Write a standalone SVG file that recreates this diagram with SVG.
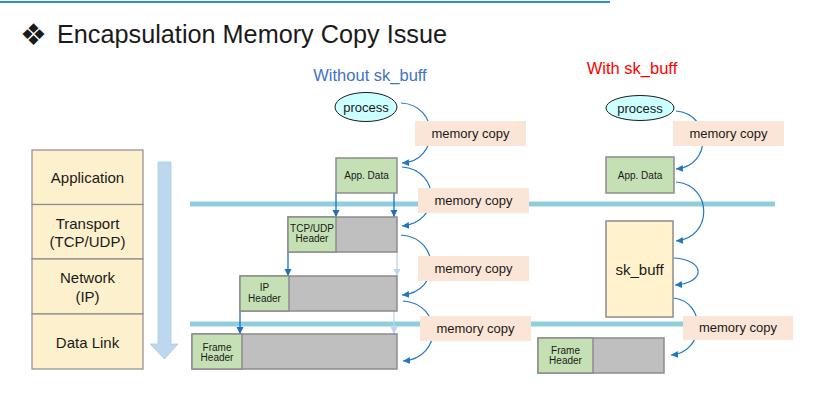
<svg xmlns="http://www.w3.org/2000/svg" width="813" height="412" viewBox="0 0 813 412">
<style>
  text { font-family: "Liberation Sans", Arial, sans-serif; fill: #1a1a1a; }
  .layer { fill: #fdf0cc; stroke: #8c8c8c; stroke-width: 1.2; }
  .green { fill: #c5e0b4; stroke: #8c8c8c; stroke-width: 1.5; }
  .gray { fill: #bfbfbf; stroke: #8c8c8c; stroke-width: 1.5; }
  .mc { fill: #fbe5d6; }
  .mct { font-size: 13px; text-anchor: middle; }
  .st { font-size: 15px; text-anchor: middle; }
  .sm { font-size: 10px; text-anchor: middle; }
  .proc { fill: #ccffff; stroke: #1a1a1a; stroke-width: 1; }
  .curve { fill: none; stroke: #1f77c4; stroke-width: 1.2; marker-end: url(#ah); }
  .vdark { fill: none; stroke: #1f6fc0; stroke-width: 1.3; marker-end: url(#ahv); }
  .vlight { fill: none; stroke: #b9d6f2; stroke-width: 1.3; marker-end: url(#ahl); }
  .sep { stroke: #92cddc; stroke-width: 5; }
</style>
<defs>
  <marker id="ah" markerUnits="userSpaceOnUse" markerWidth="8" markerHeight="8" refX="7" refY="4" orient="auto">
    <path d="M0,0.5 L7,4 L0,7.5 Z" fill="#1f77c4"/>
  </marker>
  <marker id="ahv" markerUnits="userSpaceOnUse" markerWidth="8" markerHeight="8" refX="7" refY="4" orient="auto">
    <path d="M0,0.5 L7,4 L0,7.5 Z" fill="#1f6fc0"/>
  </marker>
  <marker id="ahl" markerUnits="userSpaceOnUse" markerWidth="8" markerHeight="8" refX="7" refY="4" orient="auto">
    <path d="M0,0.5 L7,4 L0,7.5 Z" fill="#b9d6f2"/>
  </marker>
</defs>
<rect width="813" height="412" fill="#ffffff"/>
<line x1="0" y1="2" x2="610" y2="2" stroke="#2a8fd4" stroke-width="2"/>
<g id="title">
  <text x="20" y="45" font-size="30" style="font-family:'DejaVu Sans',sans-serif">❖</text>
  <text x="57" y="43" font-size="26.5" textLength="390" lengthAdjust="spacingAndGlyphs">Encapsulation Memory Copy Issue</text>
</g>
<g id="labels">
  <text x="370" y="81" font-size="16.5" text-anchor="middle" style="fill:#4472c4">Without sk_buff</text>
  <text x="632" y="74" font-size="16.5" text-anchor="middle" style="fill:#ff0000">With sk_buff</text>
</g>
<g id="stack">
  <rect class="layer" x="32" y="150" width="111" height="54.5"/>
  <rect class="layer" x="32" y="204.5" width="111" height="54.5"/>
  <rect class="layer" x="32" y="259" width="111" height="55"/>
  <rect class="layer" x="32" y="314" width="111" height="55"/>
  <text class="st" x="87.5" y="183">Application</text>
  <text class="st" x="87.5" y="229">Transport</text>
  <text class="st" x="87.5" y="247">(TCP/UDP)</text>
  <text class="st" x="87.5" y="283">Network</text>
  <text class="st" x="87.5" y="302">(IP)</text>
  <text class="st" x="87.5" y="348">Data Link</text>
</g>
<g id="down-arrow">
  <path d="M158,162 L171,162 L171,344 L178,344 L164.5,359 L150,344 L158,344 Z" fill="#bdd7ee" stroke="#aecbe8" stroke-width="0.8"/>
</g>
<g id="separators">
  <line class="sep" x1="190" y1="204" x2="775" y2="204"/>
  <line class="sep" x1="190" y1="324" x2="775" y2="324"/>
</g>
<g id="connectors">
  <path class="curve" d="M401,103 C440,105 440,161 402,163"/>
  <path class="curve" d="M402,167 C441,170 441,223 402,226"/>
  <path class="curve" d="M401,235 C441,238 441,292 402,295"/>
  <path class="curve" d="M403,301 C443,304 443,358 403,361"/>
  <path class="curve" d="M676,111 C712,114 712,166 676,169"/>
  <path class="curve" d="M676,182 C713,185 713,238 676,241"/>
  <path class="curve" d="M674,258 C706,260 706,283 675,285"/>
  <path class="curve" d="M674,298 C706,302 706,352 671,355"/>
  <path class="vdark" d="M336,193 L336,217"/>
  <path class="vdark" d="M394,193 L394,217"/>
  <path class="vdark" d="M288,252 L288,276"/>
  <path class="vlight" d="M397,252 L397,276"/>
  <path class="vdark" d="M240,311 L240,334"/>
  <path class="vlight" d="M394,311 L394,334"/>
</g>
<g id="memcopy-l1"><rect class="mc" x="415" y="121" width="111" height="25"/><text class="mct" x="470.5" y="138">memory copy</text></g>
<g id="memcopy-l2"><rect class="mc" x="418" y="188" width="111" height="25"/><text class="mct" x="473.5" y="205">memory copy</text></g>
<g id="memcopy-l3"><rect class="mc" x="418" y="256" width="111" height="25"/><text class="mct" x="473.5" y="273">memory copy</text></g>
<g id="memcopy-l4"><rect class="mc" x="420" y="316" width="111" height="25"/><text class="mct" x="475.5" y="333">memory copy</text></g>
<g id="memcopy-r1"><rect class="mc" x="673" y="121" width="111" height="25"/><text class="mct" x="728.5" y="138">memory copy</text></g>
<g id="memcopy-r2"><rect class="mc" x="683" y="316" width="110" height="24"/><text class="mct" x="738" y="332">memory copy</text></g>
<g id="process-l">
  <ellipse class="proc" cx="366" cy="107" rx="31" ry="14.5"/>
  <text class="mct" x="366" y="111.5">process</text>
</g>
<g id="appdata-l">
  <rect class="green" x="336" y="158" width="61" height="35"/>
  <text class="sm" x="366.5" y="179">App. Data</text>
</g>
<g id="tcp-l">
  <rect class="gray" x="288" y="217" width="109" height="35"/>
  <rect class="green" x="288" y="217" width="48" height="35"/>
  <text class="sm" x="312" y="232">TCP/UDP</text>
  <text class="sm" x="312" y="242">Header</text>
</g>
<g id="ip-l">
  <rect class="gray" x="240" y="276" width="157" height="35"/>
  <rect class="green" x="240" y="276" width="49" height="35"/>
  <text class="sm" x="264.5" y="291">IP</text>
  <text class="sm" x="264.5" y="301.5">Header</text>
</g>
<g id="frame-l">
  <rect class="gray" x="192" y="334" width="205" height="35"/>
  <rect class="green" x="192" y="334" width="50" height="35"/>
  <text class="sm" x="217" y="350.5">Frame</text>
  <text class="sm" x="217" y="360.5">Header</text>
</g>
<g id="process-r">
  <ellipse class="proc" cx="640" cy="108" rx="34" ry="12.5"/>
  <text class="mct" x="640" y="112.5">process</text>
</g>
<g id="appdata-r">
  <rect class="green" x="606" y="157" width="68" height="36"/>
  <text class="sm" x="640" y="179">App. Data</text>
</g>
<g id="skbuff">
  <rect x="606" y="221" width="67" height="96" fill="#fff2cc" stroke="#8c8c8c" stroke-width="1.5"/>
  <text x="639.5" y="275" font-size="15" text-anchor="middle">sk_buff</text>
</g>
<g id="frame-r">
  <rect class="gray" x="538" y="338" width="126" height="35"/>
  <rect class="green" x="538" y="338" width="55" height="35"/>
  <text class="sm" x="565.5" y="354">Frame</text>
  <text class="sm" x="565.5" y="364">Header</text>
</g>
</svg>
